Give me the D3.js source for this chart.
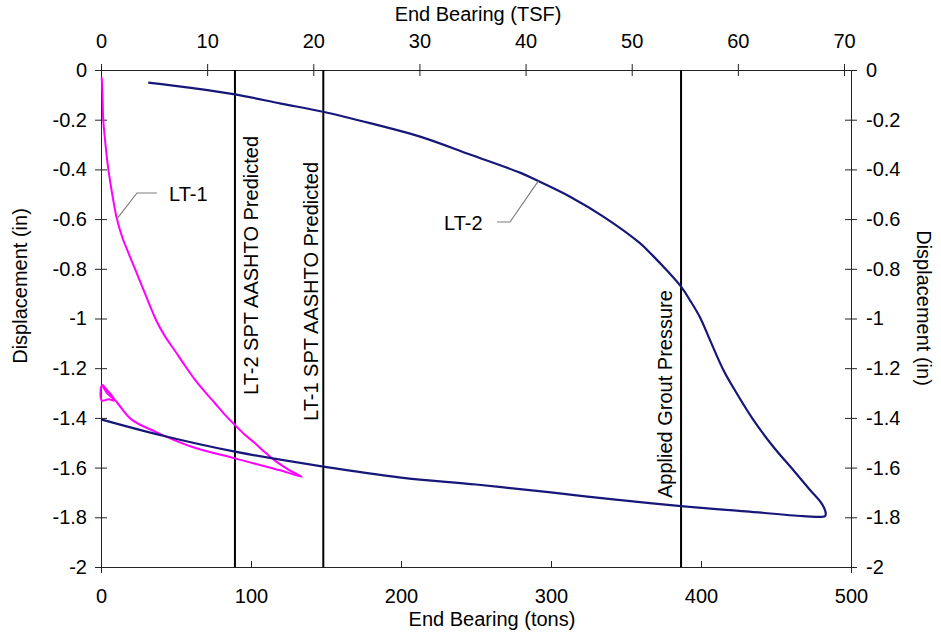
<!DOCTYPE html>
<html>
<head>
<meta charset="utf-8">
<script src="https://cdn.jsdelivr.net/npm/d3@7"></script>
<style>
  body { margin: 0; background: #fff; }
  svg { display: block; font-family: "Liberation Sans", Arial, sans-serif; }
</style>
</head>
<body>
<svg width="941" height="639"></svg>
<script>
// load test data, [end bearing (tons), displacement (in)]
const lt2Load = [
    [31.5, -0.051], [60, -0.072], [89.3, -0.098], [120, -0.135], [148, -0.168],
    [180, -0.215], [212.7, -0.268], [246, -0.34], [279.3, -0.413], [291.5, -0.447],
    [312.7, -0.51], [334.9, -0.59], [359.3, -0.697], [368, -0.748], [377, -0.805],
    [386.7, -0.872], [393, -0.93], [399.3, -0.995], [406, -1.087], [414.9, -1.207],
    [423.8, -1.301], [434.9, -1.408], [448.2, -1.516], [461.5, -1.61], [472.7, -1.69],
    [480.4, -1.744], [483.1, -1.782], [482.7, -1.795]
];
const lt2Unload = [
    [482.7, -1.795], [468.2, -1.795], [430, -1.776], [386.7, -1.755], [340, -1.727],
    [300, -1.70], [250, -1.668], [200, -1.64], [148.2, -1.596], [89.3, -1.536],
    [40, -1.47], [0, -1.406]
];
const lt1Load = [
    [0.5, -0.03], [1, -0.1], [1.5, -0.2], [3, -0.3], [4.9, -0.40], [7.5, -0.5],
    [10.5, -0.597], [14, -0.67], [18.2, -0.735], [24, -0.82], [29.3, -0.899],
    [37, -1.01], [43, -1.075], [49.3, -1.13], [56, -1.19], [62.7, -1.247], [70, -1.30],
    [76, -1.341], [83, -1.39], [89.3, -1.429], [96, -1.468], [102.7, -1.502],
    [109, -1.537], [116, -1.572], [124.9, -1.608], [133.8, -1.637]
];
const lt1Unload = [
    [133.8, -1.637], [120, -1.612], [89.3, -1.563], [60, -1.515], [36, -1.455],
    [20, -1.405], [9.3, -1.328], [4, -1.30], [0.5, -1.27], [0.5, -1.33], [5, -1.325],
    [9.3, -1.33], [3, -1.28], [0.8, -1.265]
];

const refTons = [89.3, 148.2, 386.7];
const refLabels = ["LT-2 SPT AASHTO Predicted", "LT-1 SPT AASHTO Predicted", "Applied Grout Pressure"];

const tonTicks = [0, 100, 200, 300, 400, 500];
const tsfTicks = [0, 10, 20, 30, 40, 50, 60, 70];
const dispTicks = [0, -0.2, -0.4, -0.6, -0.8, -1, -1.2, -1.4, -1.6, -1.8, -2];

const svg = d3.select("svg");
const plotLeft = 101, plotRight = 851, plotTop = 70, plotBottom = 567;
const fontSize = "20px";

const x = d3.scaleLinear().domain([0, 500]).range([plotLeft, plotRight]);
const xTsf = d3.scaleLinear().domain([0, 750 / 743 * 70]).range([plotLeft, plotRight]);
const y = d3.scaleLinear().domain([-2, 0]).range([plotBottom, plotTop]);

svg.append("rect").attr("width", 941).attr("height", 639).attr("fill", "#fff");

function styleAxis(g) {
    g.attr("font-family", null).attr("font-size", fontSize);
    g.select(".domain").attr("stroke", "#222");
    g.selectAll(".tick line").attr("stroke", "#222");
    g.selectAll(".tick text").attr("fill", "#000");
}

const plainNum = d => String(d);

// bottom axis (tons)
const xAxis = svg.append("g")
    .attr("transform", `translate(0, ${plotBottom})`)
    .call(d3.axisBottom(x).tickValues(tonTicks).tickFormat(plainNum).tickSizeInner(-6).tickSizeOuter(0).tickPadding(22))
    .call(styleAxis);
xAxis.selectAll(".tick line").filter(d => d === 0 || d === 500).attr("y1", 6);

// top axis (TSF)
svg.append("g")
    .attr("transform", `translate(0, ${plotTop})`)
    .call(d3.axisTop(xTsf).tickValues(tsfTicks).tickFormat(plainNum).tickSizeInner(6).tickSizeOuter(0).tickPadding(16))
    .call(styleAxis)
    .selectAll(".tick line").attr("y1", 6);

// left axis
svg.append("g")
    .attr("transform", `translate(${plotLeft}, 0)`)
    .call(d3.axisLeft(y).tickValues(dispTicks).tickFormat(plainNum).tickSizeInner(6).tickSizeOuter(0).tickPadding(8))
    .call(styleAxis)
    .selectAll(".tick line").attr("x1", 6);

// right axis
svg.append("g")
    .attr("transform", `translate(${plotRight}, 0)`)
    .call(d3.axisRight(y).tickValues(dispTicks).tickFormat(plainNum).tickSizeInner(6).tickSizeOuter(0).tickPadding(9))
    .call(styleAxis)
    .selectAll(".tick line").attr("x1", -6);

// axis titles
svg.append("text")
    .attr("x", 492).attr("y", 626)
    .attr("text-anchor", "middle").attr("font-size", fontSize)
    .text("End Bearing (tons)");

svg.append("text")
    .attr("x", 478).attr("y", 21)
    .attr("text-anchor", "middle").attr("font-size", fontSize)
    .text("End Bearing (TSF)");

svg.append("text")
    .attr("transform", "translate(27, 286) rotate(-90)")
    .attr("text-anchor", "middle").attr("font-size", fontSize)
    .text("Displacement (in)");

svg.append("text")
    .attr("transform", "translate(917, 308) rotate(90)")
    .attr("text-anchor", "middle").attr("font-size", fontSize)
    .text("Displacement (in)");

// reference lines
const labelPlace = [{ dx: 23, y: 395 }, { dx: -5, y: 421 }, { dx: -9, y: 498 }];

svg.selectAll(".ref-line")
    .data(refTons)
    .enter()
    .append("line")
    .attr("class", "ref-line")
    .attr("x1", d => x(d)).attr("x2", d => x(d))
    .attr("y1", y(0)).attr("y2", y(-2))
    .attr("stroke", "#000")
    .attr("stroke-width", 2);

svg.selectAll(".ref-label")
    .data(refTons)
    .enter()
    .append("text")
    .attr("class", "ref-label")
    .attr("transform", (d, i) => `translate(${x(d) + labelPlace[i].dx}, ${labelPlace[i].y}) rotate(-90)`)
    .attr("font-size", fontSize)
    .text((d, i) => refLabels[i]);

// curves
const line = d3.line()
    .x(d => x(d[0]))
    .y(d => y(d[1]))
    .curve(d3.curveCatmullRom.alpha(0.5));

svg.append("path")
    .datum(lt1Load.concat(lt1Unload.slice(1)))
    .attr("d", line)
    .attr("fill", "none")
    .attr("stroke", "#ff00ff")
    .attr("stroke-width", 2)
    .attr("stroke-linejoin", "round");

svg.append("path")
    .datum(lt2Load.concat(lt2Unload.slice(1)))
    .attr("d", line)
    .attr("fill", "none")
    .attr("stroke", "#17177a")
    .attr("stroke-width", 2.2)
    .attr("stroke-linejoin", "round");

// series labels with leader lines
const leader = svg.append("g").attr("stroke", "#7f7f7f").attr("fill", "none").attr("stroke-width", 1.2);

leader.append("polyline")
    .attr("points", [[157, 193], [137, 193], [x(10.5), y(-0.6)]].join(" "));
svg.append("text")
    .attr("x", 169).attr("y", 201)
    .attr("font-size", fontSize)
    .text("LT-1");

leader.append("polyline")
    .attr("points", [[497, 222], [510, 222], [x(291.5), y(-0.447)]].join(" "));
svg.append("text")
    .attr("x", 444).attr("y", 230)
    .attr("font-size", fontSize)
    .text("LT-2");
</script>
</body>
</html>
